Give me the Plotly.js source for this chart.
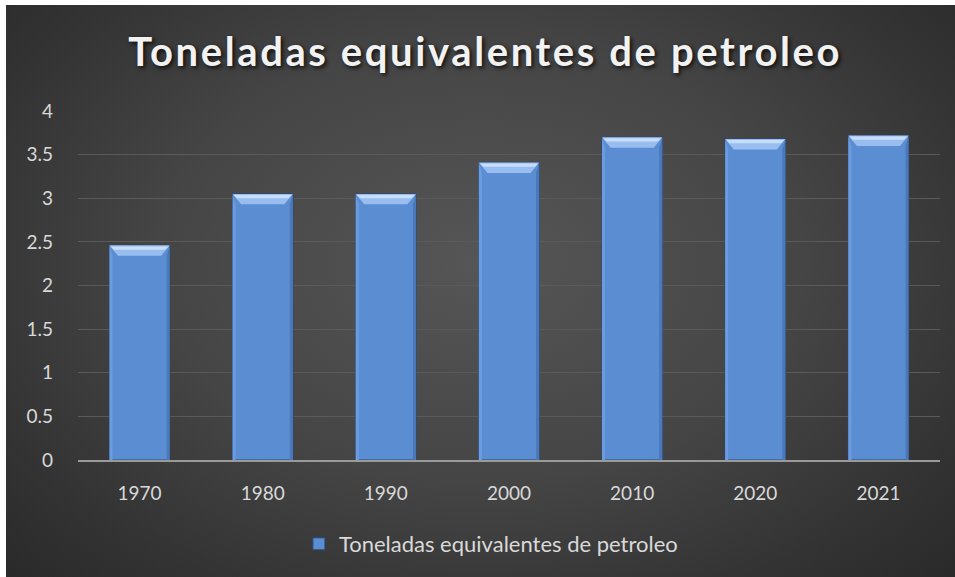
<!DOCTYPE html>
<html>
<head>
<meta charset="utf-8">
<script src="https://cdn.plot.ly/plotly-3.0.1.min.js"></script>
<style>
  html, body { margin: 0; padding: 0; background: #ffffff; }
  #bg {
    position: absolute; left: 6px; top: 5px; width: 949px; height: 572px;
    background: radial-gradient(ellipse 75% 85% at 50% 45%, #565656 0%, #454545 45%, #333333 75%, #262626 100%);
  }
  #chart { position: absolute; left: 0; top: 0; width: 955px; height: 577px; }
  .gtitle { letter-spacing: 2.6px; }
</style>
</head>
<body>
<div id="bg"></div>
<div id="chart"></div>
<script>
// ---- data ----
const years = ["1970", "1980", "1990", "2000", "2010", "2020", "2021"];
const values = [2.46, 3.05, 3.05, 3.41, 3.70, 3.68, 3.72];
const seriesName = "Toneladas equivalentes de petroleo";
const chartTitle = "Toneladas equivalentes de petroleo";
const yTicks = [0, 0.5, 1, 1.5, 2, 2.5, 3, 3.5, 4];
const yTickText = ["0", "0.5", "1", "1.5", "2", "2.5", "3", "3.5", "4"];

// ---- style ----
const barWidth = 0.49;
const bevelH = 0.12;   // in data units
const bevelIn = 0.07;  // in category units
const sideW = 0.025;
const xIdx = years.map((_, i) => i);

const trace = {
  type: "bar",
  x: xIdx,
  y: values,
  name: seriesName,
  width: barWidth,
  marker: { color: "#5b8dd2", line: { color: "#2b4a75", width: 1 } },
  showlegend: true,
  hoverinfo: "y"
};

// bevel highlights, computed from the data through the axes
const shapes = [];
values.forEach((v, i) => {
  const l = i - barWidth / 2, r = i + barWidth / 2;
  shapes.push({
    type: "path", xref: "x", yref: "y",
    path: `M ${l} ${v} L ${l + sideW} ${v - bevelH} L ${l + sideW} 0 L ${l} 0 Z`,
    fillcolor: "#6c9be0", line: { width: 0 }, layer: "above"
  });
  shapes.push({
    type: "path", xref: "x", yref: "y",
    path: `M ${r} ${v} L ${r - sideW} ${v - bevelH} L ${r - sideW} 0 L ${r} 0 Z`,
    fillcolor: "#4a78b8", line: { width: 0 }, layer: "above"
  });
  shapes.push({
    type: "path", xref: "x", yref: "y",
    path: `M ${l} ${v} L ${r} ${v} L ${r - bevelIn} ${v - bevelH} L ${l + bevelIn} ${v - bevelH} Z`,
    fillcolor: "#98bdee", line: { width: 0 }, layer: "above"
  });
  shapes.push({
    type: "path", xref: "x", yref: "y",
    path: `M ${l + 0.01} ${v - 0.012} L ${r - 0.01} ${v - 0.012} L ${r - 0.035} ${v - 0.05} L ${l + 0.035} ${v - 0.05} Z`,
    fillcolor: "#c6defa", line: { width: 0 }, layer: "above"
  });
});

const font = "Lato, 'Open Sans', sans-serif";

const layout = {
  width: 955, height: 577,
  paper_bgcolor: "rgba(0,0,0,0)",
  plot_bgcolor: "rgba(0,0,0,0)",
  margin: { l: 78, r: 15, t: 111, b: 117 },
  font: { family: font, color: "#d9d9d9", size: 19 },
  title: {
    text: chartTitle,
    font: { family: font, size: 40, weight: 700, color: "#f2f2f2", shadow: "2px 2px 4px rgba(0,0,0,0.8)" },
    x: 0.508, xref: "container", xanchor: "center",
    y: 1 - 52 / 577, yref: "container", yanchor: "middle"
  },
  xaxis: {
    range: [-0.5, 6.5],
    tickmode: "array", tickvals: xIdx, ticktext: years,
    showgrid: false, zeroline: false,
    showline: true, linecolor: "#9a9a9a", linewidth: 2,
    ticks: "", ticklabelstandoff: 15,
    tickfont: { family: font, size: 19, color: "#d9d9d9" },
    fixedrange: true
  },
  yaxis: {
    range: [0, 4],
    tickmode: "array", tickvals: yTicks, ticktext: yTickText,
    showgrid: true, gridcolor: "#5a5a5a", gridwidth: 1,
    zeroline: false, showline: false,
    ticks: "", ticklabelstandoff: 24,
    tickfont: { family: font, size: 19, color: "#d9d9d9" },
    fixedrange: true
  },
  showlegend: true,
  legend: {
    orientation: "h",
    x: 0.479, xanchor: "center",
    y: 1 - 544 / 577, yref: "container", yanchor: "middle",
    font: { family: font, size: 22, color: "#d9d9d9" },
    bgcolor: "rgba(0,0,0,0)",
    itemwidth: 30
  },
  shapes: shapes
};

Plotly.newPlot("chart", [trace], layout, { displayModeBar: false, staticPlot: true });
</script>
</body>
</html>
